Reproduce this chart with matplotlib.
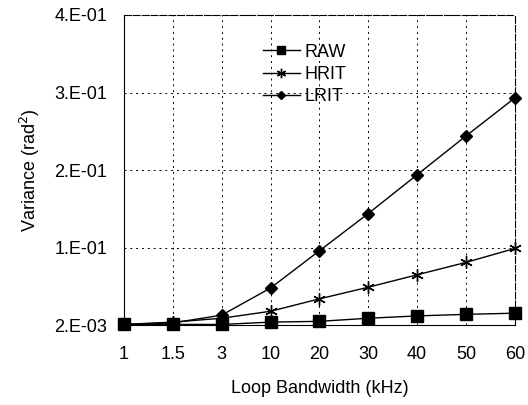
import matplotlib.pyplot as plt
import numpy as np

plt.rcParams['font.family'] = ['Liberation Sans', 'DejaVu Sans']

bandwidth = ['1', '1.5', '3', '10', '20', '30', '40', '50', '60']
raw = [0.003, 0.003, 0.003, 0.006, 0.007, 0.011, 0.014, 0.016, 0.0175]
hrit = [0.003, 0.006, 0.011, 0.020, 0.036, 0.051, 0.067, 0.083, 0.101]
lrit = [0.003, 0.005, 0.015, 0.050, 0.098, 0.146, 0.196, 0.246, 0.295]
ytick_vals = [0.002, 0.102, 0.202, 0.302, 0.402]
ytick_labels = ['2.E-03', '1.E-01', '2.E-01', '3.E-01', '4.E-01']

fig = plt.figure(figsize=(5.28, 4.05), dpi=100)
ax = fig.add_axes([0.235, 0.197, 0.74, 0.766])

x = np.arange(len(bandwidth))
ax.plot(x, raw, '-', color='k', lw=1, marker='s', ms=8, label='RAW', clip_on=False)
ax.plot(x, hrit, '-', color='k', lw=1, marker=(6, 2, 0), ms=9, mew=1,
        label='HRIT', clip_on=False)
ax.plot(x, lrit, '-', color='k', lw=1, marker='D', ms=6, label='LRIT', clip_on=False)

ax.set_xlim(0, len(bandwidth) - 1)
ax.set_ylim(0.002, 0.402)
ax.set_xticks(x)
ax.set_xticklabels(bandwidth)
ax.set_yticks(ytick_vals)
ax.set_yticklabels(ytick_labels)
ax.tick_params(length=0, labelsize=13)
ax.tick_params(axis='x', pad=15)
ax.tick_params(axis='y', pad=12)
ax.grid(True, color='k', linestyle=(0, (2, 4)), lw=0.7)

for s in ['top', 'right']:
    ax.spines[s].set_linestyle((0, (6, 2)))
for s in ax.spines.values():
    s.set_linewidth(0.8)

ax.set_xlabel('Loop Bandwidth (kHz)', fontsize=13, labelpad=12)
ax.set_ylabel('Variance (rad$^2$)', fontsize=13, labelpad=9)

leg = ax.legend(loc='upper left', bbox_to_anchor=(0.315, 0.96), frameon=False,
                fontsize=13, handlelength=2.0, handletextpad=0.3,
                labelspacing=0.3, markerscale=0.75)

fig.savefig('out.png', dpi=100)
